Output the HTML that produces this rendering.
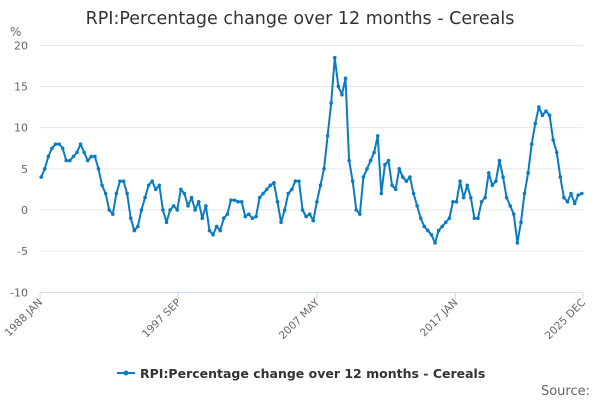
<!DOCTYPE html>
<html><head><meta charset="utf-8"><style>
body{margin:0;background:#fff;font-family:"DejaVu Sans",sans-serif}
svg{display:block;font-family:"DejaVu Sans",sans-serif}
</style></head><body>
<svg id="chart" width="600" height="400" xmlns="http://www.w3.org/2000/svg">
<text x="300" y="24" text-anchor="middle" font-size="17.5" fill="#333">RPI:Percentage change over 12 months - Cereals</text>
<text x="10" y="36" font-size="12" fill="#666">%</text>
<g id="grid"></g><g id="yt"></g><g id="xt"></g><g id="series"></g>
<g>
<line x1="117" y1="373" x2="135" y2="373" stroke="#0a7bc2" stroke-width="2"/>
<circle cx="126" cy="373" r="2.5" fill="#0a7bc2"/>
<text x="140" y="378" font-size="12.5" font-weight="bold" fill="#333">RPI:Percentage change over 12 months - Cereals</text>
</g>
<text x="590" y="395" text-anchor="end" font-size="13" fill="#666">Source:</text>
</svg>
<script>
const yTicks=[-10,-5,0,5,10,15,20];
const xLabels=["1988 JAN","1997 SEP","2007 MAY","2017 JAN","2025 DEC"];
const xLabelMonths=[0,116,232,348,455];
const values=[4,5,6.5,7.5, 8,8,7.5,6, 6,6.5,7,8, 7,6,6.5,6.5, 5,3,2,0,
-0.5,2,3.5,3.5, 2,-1,-2.5,-2, 0,1.5,3,3.5, 2.5,3,0,-1.5, 0,0.5,0,2.5,
2,0.5,1.5,0, 1,-1,0.5,-2.5, -3,-2,-2.5,-1, -0.5,1.2,1.2,1, 1,-0.8,-0.5,-1,
-0.8,1.5,2,2.5, 3,3.3,1,-1.5, 0,2,2.5,3.5, 3.5,0,-0.8,-0.5, -1.3,1,3,5,
9,13,18.5,15, 14,16,6,3.5, 0,-0.5,4,5, 6,7,9,2, 5.5,6,3,2.5,
5,4,3.5,4, 2,0.5,-1,-2, -2.5,-3,-4,-2.5, -2,-1.5,-1,1, 1,3.5,1.5,3,
1.5,-1,-1,1, 1.5,4.5,3,3.5, 6,4,1.5,0.5, -0.5,-4,-1.5,2, 4.5,8,10.5,12.5,
11.5,12,11.5,8.5, 7,4,1.5,1, 2,0.8,1.8,2];
const NS="http://www.w3.org/2000/svg";
const X0=40,X1=583;
const xs=m=>X0+m/455*(X1-X0);
const ys=v=>210-v*(247/30);
function mk(t,a,p){const e=document.createElementNS(NS,t);for(const k in a)e.setAttribute(k,a[k]);p.appendChild(e);return e;}
const grid=document.getElementById('grid'),yt=document.getElementById('yt'),xt=document.getElementById('xt'),ser=document.getElementById('series');
yTicks.forEach(v=>{
 const l=mk('line',{x1:X0,x2:X1,y1:ys(v),y2:ys(v),stroke:v===-10?'#ccd6eb':'#e6e6e6','stroke-width':1},grid);
 
 
 const t=mk('text',{x:28,y:ys(v)+4,'text-anchor':'end','font-size':11,fill:'#666'},yt);
 t.textContent=v;
 
 
});
xLabels.forEach((s,i)=>{
 const x=xs(xLabelMonths[i]);
 const tk=mk('line',{x1:x,x2:x,y1:293,y2:299,stroke:'#ccd6eb'},xt);
 
 
 const t=mk('text',{x:x+3,y:303,'text-anchor':'end','font-size':10.5,fill:'#666',transform:`rotate(-45 ${x+3} 303)`},xt);
 t.textContent=s;
 
 
});
const pts=values.map((v,i)=>[xs(i*3+1),ys(v)]);
const pl=mk('polyline',{points:pts.map(p=>p.join(',')).join(' '),fill:'none',stroke:'#0a7bc2','stroke-width':2,'stroke-linejoin':'round'},ser);


pts.forEach(p=>{
 const c=mk('circle',{cx:p[0],cy:p[1],r:1.8,fill:'#0a7bc2'},ser);
 
 
});
</script>
</body></html>
